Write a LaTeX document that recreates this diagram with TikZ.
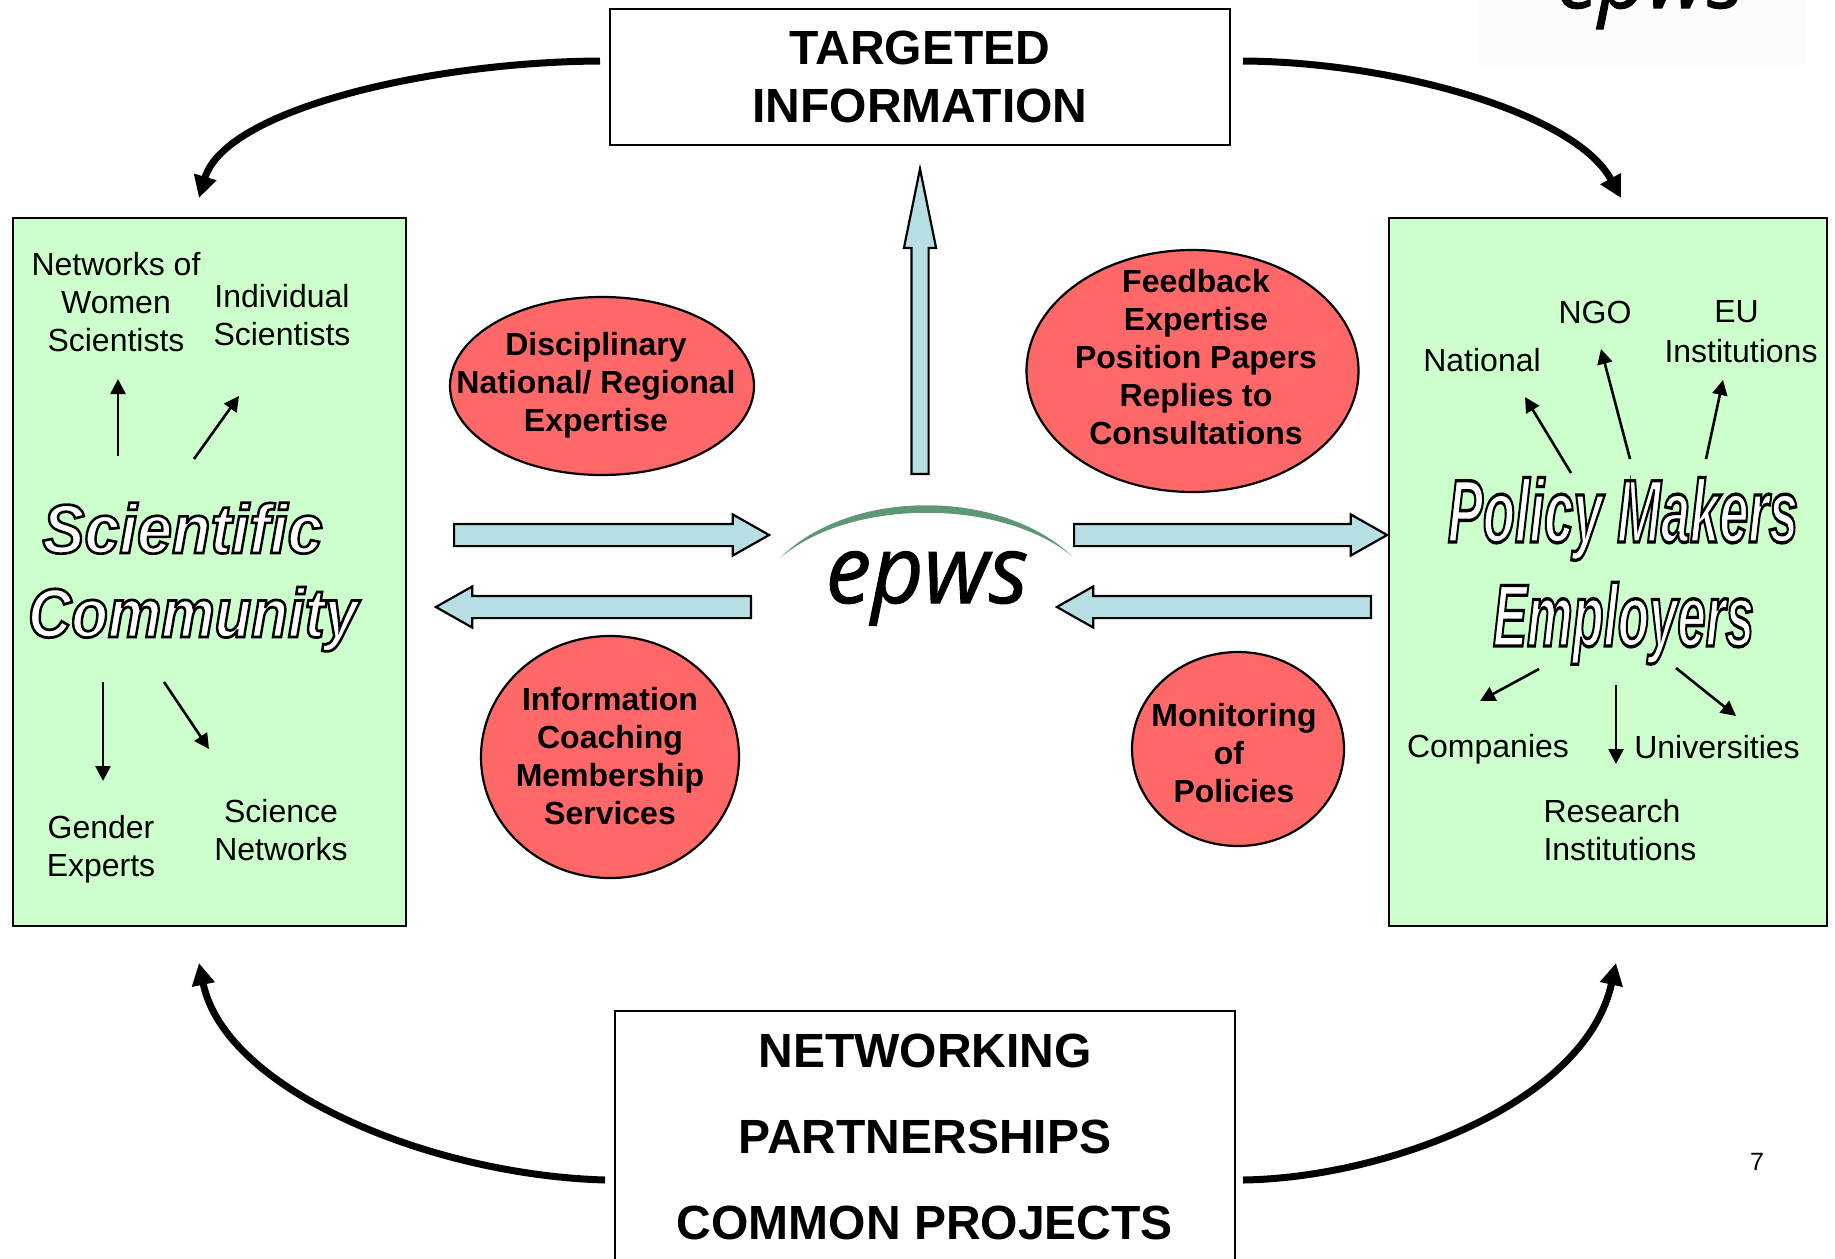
\documentclass[tikz,border=0pt]{standalone}
\usepackage{fontspec}
\setmainfont{Liberation Sans}
\newfontfamily\logofont{Open Sans}
\usetikzlibrary{shapes.geometric}
\usetikzlibrary{shapes.arrows}
\usetikzlibrary{arrows.meta}
\definecolor{boxgreen}{HTML}{CCFFCC}
\definecolor{blobred}{HTML}{FF6868}
\definecolor{arrowblue}{HTML}{B7DEE2}
\definecolor{logogreen}{HTML}{5F9675}
\newcommand{\fsize}[2]{\fontsize{#1}{#2}\selectfont}
\newcommand{\wordart}[2]{\special{pdf: code 0 0 0 RG 1 1 1 rg 2 Tr #1 w}#2\special{pdf: code 0 Tr 0 g 0 G 1 w}}
\newcommand{\heavy}[1]{\special{pdf: code 0 0 0 RG 0 0 0 rg 2 Tr 1 w}#1\special{pdf: code 0 Tr 0 g 0 G 1 w}}
\tikzset{
  whitebox/.style={draw,line width=2.2pt,fill=white,inner sep=0pt,align=center},
  greenbox/.style={draw,line width=2.2pt,fill=boxgreen,inner sep=0pt},
  blob/.style={ellipse,draw,line width=2.2pt,fill=blobred,inner sep=0pt},
  blobtext/.style={align=center,inner sep=0pt,font=\fsize{32}{38}\bfseries},
  plain/.style={align=center,inner sep=0pt,font=\fsize{32}{38}},
  blockarrow/.style={single arrow,draw,line width=2.2pt,fill=arrowblue,inner xsep=0pt,anchor=tail},
  sidearrow/.style={blockarrow,inner ysep=10pt,minimum width=39pt,
    single arrow head extend=9.5pt,single arrow tip angle=59},
  bigcurve/.style={-{Triangle[length=22pt,width=22pt]},line width=7pt},
  smallarrow/.style={-{Triangle[length=15pt,width=15pt]},line width=2.6pt},
  wordart/.style={inner sep=0pt,anchor=base,transform shape}
}
\begin{document}
\begin{tikzpicture}
[x=1pt,y=-1pt]
\clip[use as bounding box] (0,0) rectangle (1835,1258);
% top right logo, cut by the page
\fill[white!99!black] (1479,0) rectangle (1805,65);
\node[inner sep=0pt,anchor=base,xscale=0.96,transform shape,font=\logofont\itshape\fsize{88}{88}] (logotop) at (1650,8) {\heavy{epws}};
% boxes
\node[whitebox,minimum width=620pt,minimum height=136pt,font=\fsize{48}{58}\bfseries] (target) at (920,77)
  {TARGETED\\INFORMATION};
\node[whitebox,minimum width=620pt,minimum height=251pt,font=\fsize{48}{86}\bfseries] (network) at (925,1136.5)
  {NETWORKING\\PARTNERSHIPS\\COMMON PROJECTS};
\node[greenbox,minimum width=393pt,minimum height=708pt] (science) at (209.5,572) {};
\node[greenbox,minimum width=438pt,minimum height=708pt] (policy) at (1608,572) {};
% red blobs
\node[blob,minimum width=304pt,minimum height=178pt] (disc) at (602,386) {};
\node[blob,minimum width=332pt,minimum height=242pt] (feed) at (1192.5,371) {};
\node[blob,minimum width=258pt,minimum height=242pt] (info) at (610,757) {};
\node[blob,minimum width=212pt,minimum height=194pt] (moni) at (1238,749) {};
\node[blobtext] (disctext) at (596,385) {Disciplinary\\National/ Regional\\Expertise};
\node[blobtext] (feedtext) at (1196,357) {Feedback\\Expertise\\Position Papers\\Replies to\\Consultations};
\node[blobtext] (infotext) at (610,756) {Information\\Coaching\\Membership\\Services};
\node[blobtext] (monitext) at (1234,753) {Monitoring\\\mbox{of\hspace{10pt}}\\Policies};
% block arrows
\node[blockarrow,rotate=90,inner ysep=7.5pt,minimum height=305pt,minimum width=30pt,
  single arrow head extend=7.5pt,single arrow tip angle=23] (up) at (920,475) {};
\node[sidearrow,minimum height=315pt] (inleft) at (453,535) {};
\node[sidearrow,rotate=180,minimum height=315pt] (outleft) at (752,607) {};
\node[sidearrow,minimum height=313pt] (outright) at (1073,535) {};
\node[sidearrow,rotate=180,minimum height=314pt] (inright) at (1372,607) {};
% centre logo
\fill[logogreen] (780,558) .. controls (850,488) and (1000,488) .. (1072,556)
  .. controls (1000,498) and (850,498) .. (780,558) -- cycle;
\node[inner sep=0pt,anchor=base,xscale=0.96,transform shape,font=\logofont\itshape\fsize{95}{95}] (logo) at (927,603) {\heavy{epws}};
% big curves
\coordinate (tlS) at (600,61);
\coordinate (tlE) at (199,198);
\coordinate (trS) at (1243,61);
\coordinate (trE) at (1621,198);
\coordinate (blS) at (605,1180);
\coordinate (blE) at (199,963);
\coordinate (brS) at (1243,1180);
\coordinate (brE) at (1616,963);
\draw[bigcurve] (tlS) .. controls (428,62) and (225,110) .. (tlE);
\draw[bigcurve] (trS) .. controls (1395,62) and (1575,113) .. (trE);
\draw[bigcurve] (blS) .. controls (430,1175) and (225,1090) .. (blE);
\draw[bigcurve] (brS) .. controls (1383,1178) and (1585,1105) .. (brE);
% word art
\node[wordart,yscale=1.1,font=\bfseries\itshape\fsize{63}{63}] (sci) at (182.5,553) {\wordart{2.4}{Scientific}};
\node[wordart,yscale=1.15,font=\bfseries\itshape\fsize{60}{60}] (com) at (193,637) {\wordart{2.4}{Community}};
\node[wordart,xscale=0.59,font=\bfseries\itshape\fsize{89}{89}] (pol) at (1623,542) {\wordart{3.4}{Policy Makers}};
\node[wordart,xscale=0.58,font=\bfseries\itshape\fsize{88}{88}] (emp) at (1623.5,646) {\wordart{3.4}{Employers}};
% labels
\node[plain] (women) at (116,302) {Networks of\\Women\\Scientists};
\node[plain] (indiv) at (282,315) {Individual\\Scientists};
\node[plain] (gender) at (101,849) {Gender\\Experts};
\node[plain] (netw) at (281,830) {Science\\Networks};
\node[plain] (nat) at (1482,360) {National};
\node[plain] (ngo) at (1595,312) {NGO};
\node[plain,font=\fsize{32}{40}] (eu) at (1741,332) {EU\hspace*{9pt}\\Institutions};
\node[plain] (comp) at (1488,749) {Companies};
\node[plain] (univ) at (1717,747) {Universities};
\node[plain,align=left] (res) at (1620,830) {Research\\Institutions};
\node[inner sep=0pt,font=\fsize{25}{25}] (pageno) at (1757,1162) {7};
% small arrows
\coordinate (a1) at (118,456);
\coordinate (a2) at (118,379);
\coordinate (b1) at (194,459);
\coordinate (b2) at (239,396);
\coordinate (c1) at (103,682);
\coordinate (c2) at (103,781);
\coordinate (d1) at (164,682);
\coordinate (d2) at (209,749);
\coordinate (e1) at (1571,473);
\coordinate (e2) at (1525,397);
\coordinate (f1) at (1630,459);
\coordinate (f2) at (1601,349);
\coordinate (g1) at (1706,459);
\coordinate (g2) at (1723,380);
\coordinate (h1) at (1539,669);
\coordinate (h2) at (1480,701);
\coordinate (i1) at (1616,685);
\coordinate (i2) at (1616,764);
\coordinate (j1) at (1676,668);
\coordinate (j2) at (1736,716);
\foreach \s/\t in {a1/a2,b1/b2,c1/c2,d1/d2,e1/e2,f1/f2,g1/g2,h1/h2,i1/i2,j1/j2}
  \draw[smallarrow] (\s) -- (\t);
\end{tikzpicture}
\end{document}
